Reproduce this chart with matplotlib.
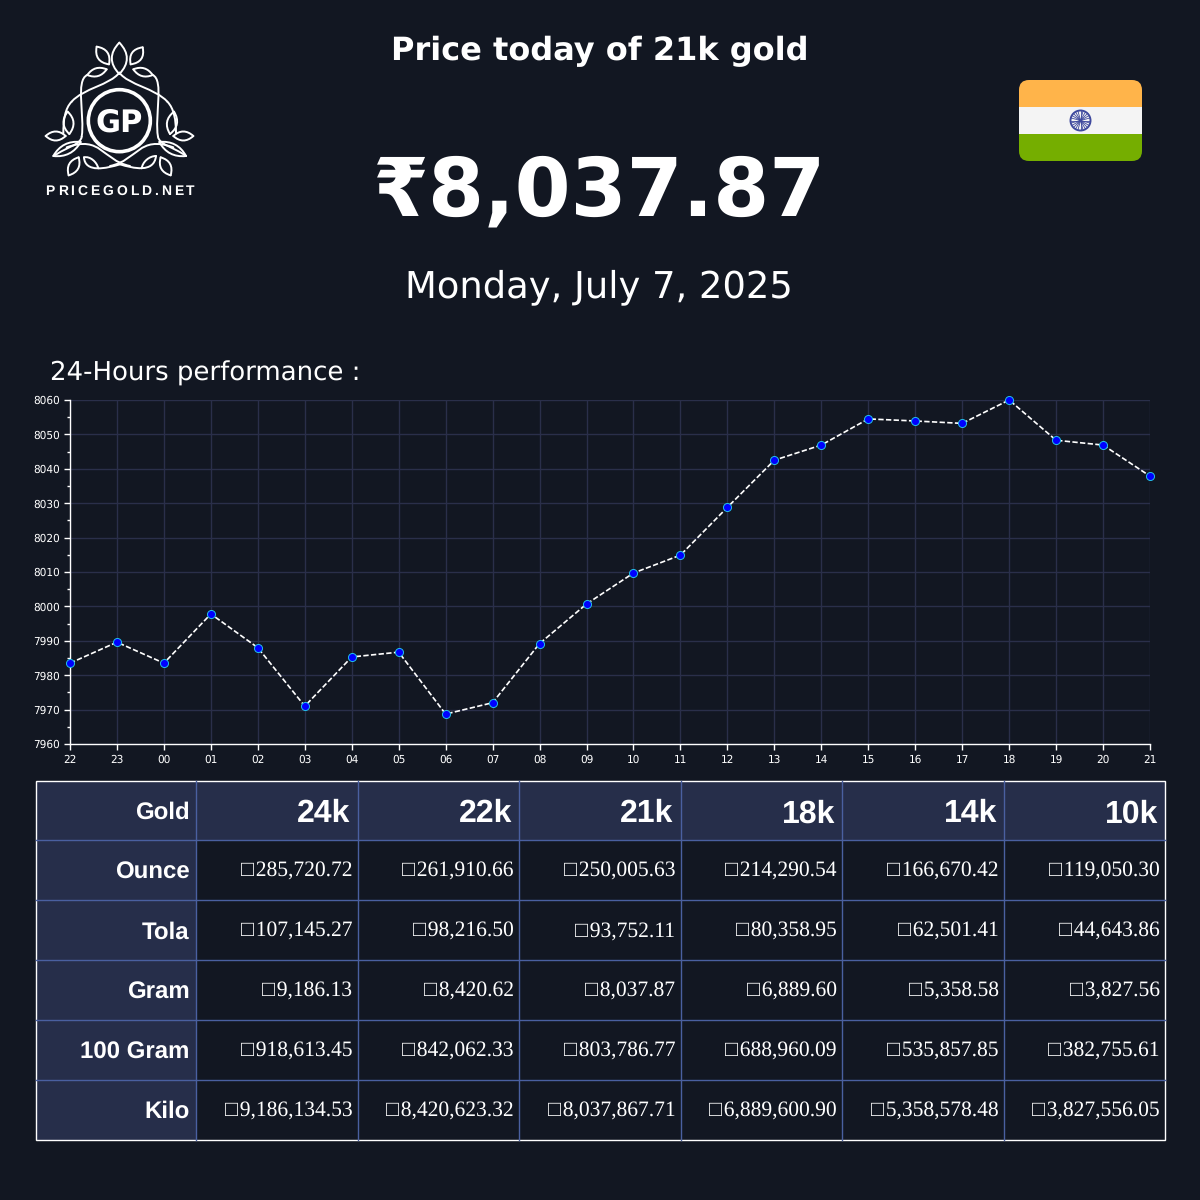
import numpy as np
import matplotlib
matplotlib.use('Agg')
import matplotlib.pyplot as plt
from matplotlib.patches import Rectangle, FancyBboxPatch, Circle, PathPatch
from matplotlib.path import Path

plt.rcParams['text.hinting'] = 'no_hinting'

# chart data
hours = ['22','23','00','01','02','03','04','05','06','07','08','09','10','11','12','13','14','15','16','17','18','19','20','21']
prices = [7983.5,7989.6,7983.5,7997.8,7988.0,7971.0,7985.3,7986.7,7968.7,7972.0,7989.2,8000.7,8009.7,
          8014.9,8028.8,8042.5,8046.9,8054.5,8053.9,8053.2,8060.0,8048.3,8046.9,8037.87]

# table data
karats = ['24k','22k','21k','18k','14k','10k']
units = ['Ounce','Tola','Gram','100 Gram','Kilo']
ounce = ['285,720.72','261,910.66','250,005.63','214,290.54','166,670.42','119,050.30']
tola = ['107,145.27','98,216.50','93,752.11','80,358.95','62,501.41','44,643.86']
gram = ['9,186.13','8,420.62','8,037.87','6,889.60','5,358.58','3,827.56']
gram100 = ['918,613.45','842,062.33','803,786.77','688,960.09','535,857.85','382,755.61']
kilo = ['9,186,134.53','8,420,623.32','8,037,867.71','6,889,600.90','5,358,578.48','3,827,556.05']
rows = [ounce, tola, gram, gram100, kilo]

BG = '#121722'
HEAD = '#262e4a'
CELL_LINE = '#4a60a0'
GRID = '#2a2f4a'
# the reference shows the currency sign in the cells as an empty box
BOX = '\u25a1\u200a'

fig = plt.figure(figsize=(12, 12), dpi=100, facecolor=BG)

# overlay in pixel coordinates
page = fig.add_axes([0, 0, 1, 1])
page.set_xlim(0, 1200)
page.set_ylim(1200, 0)
page.axis('off')

# headings
page.text(600, 60, 'Price today of 21k gold', color='white', fontsize=23, fontweight='bold', ha='center', va='baseline')
page.text(600, 215, '₹8,037.87', color='white', fontsize=58, fontweight='bold', ha='center', va='baseline')
page.text(599, 287, 'Monday, July 7, 2025', color='white', fontsize=26.6, ha='center', va='center')
page.text(50, 373, '24-Hours performance :', color='white', fontsize=18.7, ha='left', va='center')


def lx(x):
    return 30 + x / 3


def ly(y):
    return 30 + y / 3


def curve(pts, lw=1.4):
    verts = [(lx(x), ly(y)) for x, y in pts]
    codes = [Path.MOVETO] + [Path.CURVE4] * (len(verts) - 1)
    page.add_patch(PathPatch(Path(verts, codes), fc='none', ec='white', lw=lw, capstyle='round'))


def leaf(p1, p2, bulge):
    p1 = np.array(p1, float)
    p2 = np.array(p2, float)
    d = p2 - p1
    n = np.array([-d[1], d[0]]) / np.hypot(*d) * bulge
    a = p1 + d * 0.33
    b = p1 + d * 0.67
    curve([p1, a + n, b + n, p2])
    curve([p1, a - n, b - n, p2])


leaf((268, 38), (268, 132), 30)
leaf((200, 50), (237, 103), 22)
leaf((338, 52), (302, 103), 22)
leaf((230, 118), (172, 135), 16)
leaf((310, 118), (368, 135), 16)
leaf((113, 245), (118, 312), 20)
leaf((432, 245), (420, 312), 20)
leaf((47, 318), (107, 318), 18)
leaf((430, 318), (490, 318), 18)
leaf((70, 378), (152, 336), 20)
leaf((468, 378), (388, 336), 20)
leaf((146, 382), (116, 436), 20)
leaf((392, 382), (422, 436), 20)

# vines
curve([(268, 128), (240, 165), (160, 175), (125, 215)])
curve([(125, 215), (105, 235), (100, 270), (100, 310)])
curve([(268, 128), (296, 165), (376, 175), (412, 215)])
curve([(412, 215), (432, 235), (438, 270), (438, 310)])
curve([(172, 135), (135, 150), (165, 260), (155, 320)])
curve([(155, 320), (152, 345), (110, 350), (72, 378)])
curve([(368, 135), (403, 150), (373, 260), (384, 320)])
curve([(384, 320), (388, 345), (430, 350), (468, 378)])
curve([(110, 352), (215, 315), (215, 390), (300, 408)])
curve([(430, 352), (325, 315), (325, 390), (240, 408)])
curve([(162, 382), (165, 430), (230, 415), (270, 403)])
curve([(378, 378), (372, 430), (310, 415), (270, 403)])
curve([(162, 382), (180, 378), (200, 395), (205, 415)])
curve([(378, 378), (358, 378), (338, 395), (335, 415)])

page.add_patch(Circle((lx(268), ly(272)), 31, fc='none', ec='white', lw=2.6))
page.text(119.5, 131.5, 'GP', color='white', fontsize=22, fontweight='bold', ha='center', va='baseline')

# logo caption, letter by letter because of the wide tracking
renderer = fig.canvas.get_renderer()
pen = 45.5
for ch in 'PRICEGOLD.NET':
    t = page.text(pen, 195, ch, color='white', fontsize=10, fontweight='bold', family='Liberation Sans', ha='left', va='baseline')
    pen += t.get_window_extent(renderer).width + 2.9

# flag
clip = FancyBboxPatch((1019, 80), 123, 81, boxstyle='round,pad=0,rounding_size=10', fc='none', ec='none')
page.add_patch(clip)
for y0, col in [(80, '#ffb44a'), (107, '#f4f4f4'), (134, '#75ae00')]:
    stripe = Rectangle((1019, y0), 123, 27, fc=col, ec='none')
    page.add_patch(stripe)
    stripe.set_clip_path(clip)
page.add_patch(Circle((1080.5, 120.5), 10, fc='none', ec='#3f4a9e', lw=1.4))
page.add_patch(Circle((1080.5, 120.5), 1.6, fc='#3f4a9e', ec='none'))
for ang in np.arange(0, 360, 15):
    t = np.radians(ang)
    page.plot([1080.5, 1080.5 + 9.5 * np.cos(t)], [120.5, 120.5 + 9.5 * np.sin(t)], color='#3f4a9e', lw=0.6)

# line chart
ax = fig.add_axes([70 / 1200, 1 - 744 / 1200, 1080 / 1200, 344 / 1200], facecolor='none')
x = np.arange(len(hours))
ax.plot(x, prices, color='white', lw=1.2, ls=(0, (3.2, 1.4)), marker='o', ms=5.8, mfc='#0000ff', mec='#22c0e8',
        mew=0.7, clip_on=False, zorder=5)
ax.set_xlim(0, len(hours) - 1)
ax.set_ylim(7960, 8060)
ax.set_xticks(x)
ax.set_xticklabels(hours)
ax.set_yticks(np.arange(7960, 8061, 10))
ax.set_yticks(np.arange(7965, 8060, 10), minor=True)
ax.grid(True, which='major', color=GRID, lw=1)
ax.set_axisbelow(True)
ax.tick_params(axis='both', which='major', colors='white', labelsize=7.6, length=4, width=1, pad=3.5)
ax.tick_params(axis='y', which='minor', colors='white', length=2.5, width=1)
for side in ['top', 'right']:
    ax.spines[side].set_visible(False)
for side in ['left', 'bottom']:
    ax.spines[side].set_color('white')
    ax.spines[side].set_linewidth(1)

# price table
col_edges = [35.5, 196, 357.5, 519, 680.5, 842, 1004, 1165]
row_edges = [780.5, 840, 900, 960, 1020, 1080, 1139.5]
page.add_patch(Rectangle((35.5, 780.5), 1129.5, 59.5, fc=HEAD, ec='none'))
page.add_patch(Rectangle((35.5, 780.5), 160.5, 359, fc=HEAD, ec='none'))
for cx in col_edges[1:-1]:
    page.plot([cx, cx], [780.5, 1139.5], color=CELL_LINE, lw=1)
for cy in row_edges[1:-1]:
    page.plot([35.5, 1165], [cy, cy], color=CELL_LINE, lw=1)
page.add_patch(Rectangle((35.5, 780.5), 1129.5, 359, fc='none', ec='white', lw=1))

page.text(189.5, 819, 'Gold', color='white', fontsize=17.3, fontweight='bold', family='Liberation Sans', ha='right', va='baseline')
for i, k in enumerate(karats):
    page.text(col_edges[i + 2] - 7, 822.5, k, color='white', fontsize=23, fontweight='bold', family='Liberation Sans',
              ha='right', va='baseline')
for j, u in enumerate(units):
    cy = (row_edges[j + 1] + row_edges[j + 2]) / 2
    page.text(189.5, cy + 8.5, u, color='white', fontsize=17.3, fontweight='bold', family='Liberation Sans', ha='right', va='baseline')
    for i, v in enumerate(rows[j]):
        page.text(col_edges[i + 2] - 5, cy + 6.5, BOX + v, color='white', fontsize=15.5,
                  family=['Liberation Serif', 'DejaVu Sans'], ha='right', va='baseline')

fig.savefig('out.png', dpi=100, facecolor=BG)
